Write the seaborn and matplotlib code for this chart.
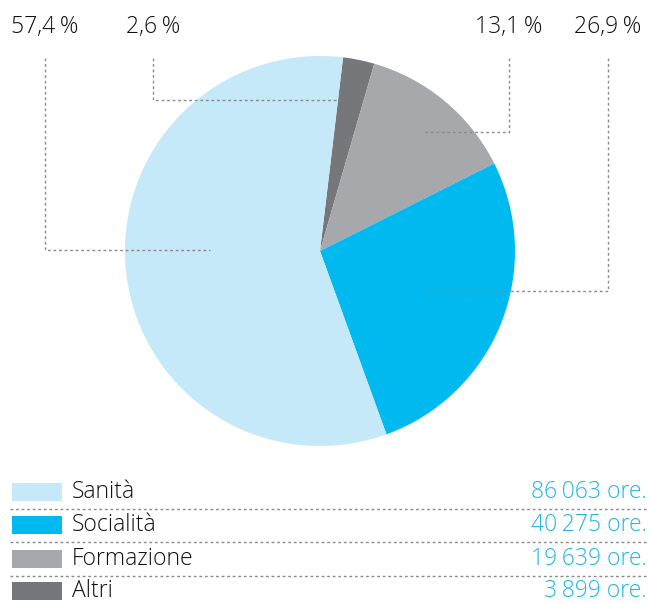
import matplotlib
matplotlib.use("Agg")
import matplotlib.pyplot as plt
import seaborn as sns

# dati
categorie = ['Sanità', 'Socialità', 'Formazione', 'Altri']
ore = [86063, 40275, 19639, 3899]
ore_label = ['86\u2009063 ore.', '40\u2009275 ore.', '19\u2009639 ore.', '3\u2009899 ore.']
perc_label = ['57,4\u2009%', '26,9\u2009%', '13,1\u2009%', '2,6\u2009%']
colori = ['#c5e9f9', '#00b9ef', '#a7a8ab', '#76777b']

sns.set_theme(style='white')
plt.rcParams['font.family'] = ['Open Sans', 'DejaVu Sans']

W, H = 649, 603
fig = plt.figure(figsize=(W / 100, H / 100), dpi=100)
ax = fig.add_axes([0, 0, 1, 1])

# torta: ordine orario partendo da "Altri"
ordine = [3, 2, 1, 0]
cx, cy, r = 320, H - 251, 195
ax.pie([ore[i] for i in ordine], colors=[colori[i] for i in ordine],
       startangle=83.2, counterclock=False, center=(cx, cy), radius=r,
       wedgeprops=dict(linewidth=0), frame=True)
ax.set_xlim(0, W)
ax.set_ylim(0, H)
ax.set_aspect('auto')
ax.axis('off')

# etichette percentuali con linee guida
line_kw = dict(color='#8a8a8a', lw=1, ls=(0, (2, 2)))
guide = {
    0: (45, 250, 210),   # Sanità
    3: (153, 100, 340),  # Altri
    2: (509, 132, 425),  # Formazione
    1: (608, 291, 425),  # Socialità
}
for i, (xv, yh, xe) in guide.items():
    ax.plot([xv, xv, xe], [H - 58, H - yh, H - yh], **line_kw)
    ax.text(xv, H - 27, perc_label[i], ha='center', va='center',
            fontsize=16.5, color='#111111', fontweight='light')

# legenda
righe_y = [492, 525, 559, 591]
for i, cat in enumerate(categorie):
    y = H - righe_y[i]
    ax.add_patch(plt.Rectangle((12, y - 9), 50, 18, color=colori[i], lw=0))
    ax.text(72, y, cat, ha='left', va='center', fontsize=16.5,
            color='#111111', fontweight='light')
    ax.text(647, y, ore_label[i], ha='right', va='center', fontsize=16.5,
            color='#22b5e6', fontweight='light')
    if i < 3:
        ys = H - (righe_y[i] + 17)
        ax.plot([10, 647], [ys, ys], **line_kw)

fig.savefig('out.png', dpi=100)
